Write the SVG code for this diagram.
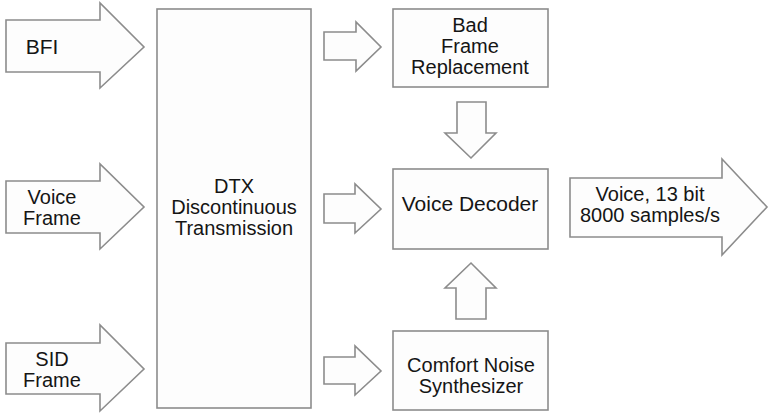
<svg xmlns="http://www.w3.org/2000/svg" width="769" height="415" viewBox="0 0 769 415">
<style>
.s{fill:#fdfdfd;stroke:#8c8c8c;stroke-width:1.6;stroke-linejoin:miter}
text{font-family:"Liberation Sans",Arial,sans-serif;font-size:20px;fill:#151515;text-anchor:middle}
</style>
<rect width="769" height="415" fill="#ffffff"/>
<g id="bfi">
<polygon class="s" points="6,20 100,20 100,3 144,47 100,88 100,72 6,72"/>
<text x="42" y="54" style="font-size:21px">BFI</text>
</g>
<g id="voice-frame">
<polygon class="s" points="6,181 100,181 100,164 144,207 100,249 100,233 6,233"/>
<text x="52" y="204">Voice</text>
<text x="52" y="225">Frame</text>
</g>
<g id="sid-frame">
<polygon class="s" points="6,343 100,343 100,325 144,369 100,411 100,394 6,394"/>
<text x="52" y="366">SID</text>
<text x="52" y="387">Frame</text>
</g>
<g id="dtx">
<rect class="s" x="157" y="9" width="154" height="399"/>
<text x="234" y="193">DTX</text>
<text x="234" y="214">Discontinuous</text>
<text x="234" y="235">Transmission</text>
</g>
<g id="bad-frame">
<rect class="s" x="393" y="9" width="155" height="78"/>
<text x="470" y="32">Bad</text>
<text x="470" y="53">Frame</text>
<text x="470" y="74">Replacement</text>
</g>
<g id="voice-decoder">
<rect class="s" x="393" y="169" width="155" height="80"/>
<text x="470" y="211" style="font-size:21px">Voice Decoder</text>
</g>
<g id="comfort-noise">
<rect class="s" x="393" y="331" width="155" height="79"/>
<text x="471" y="372">Comfort Noise</text>
<text x="471" y="393">Synthesizer</text>
</g>
<g id="output">
<polygon class="s" points="570,178 722,178 722,159 767,207 722,255 722,237 570,237"/>
<text x="650" y="201">Voice, 13 bit</text>
<text x="650" y="222">8000 samples/s</text>
</g>
<g id="connectors">
<polygon class="s" points="324,32 356,32 356,22 381,47 356,71 356,60 324,60"/>
<polygon class="s" points="324,194 355,194 355,184 381,209 355,233 355,223 324,223"/>
<polygon class="s" points="324,357 355,357 355,346 381,371 355,395 355,384 324,384"/>
<polygon class="s" points="457,102 486,102 486,133 496,133 471,158 445,133 457,133"/>
<polygon class="s" points="456,319 486,319 486,288 496,288 471,263 445,288 456,288"/>
</g>
</svg>
